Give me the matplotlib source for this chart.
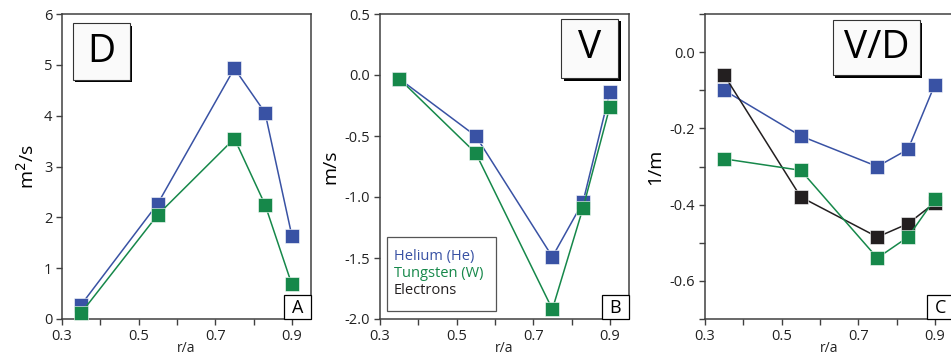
import numpy as np
import matplotlib.pyplot as plt
from matplotlib.patches import Rectangle
from matplotlib.ticker import MultipleLocator, FormatStrFormatter

plt.rcParams['font.family'] = ['Open Sans', 'DejaVu Sans']
plt.rcParams['axes.unicode_minus'] = False

# radial positions (r/a)
r = [0.35, 0.55, 0.75, 0.83, 0.90]

# diffusion coefficient D (m^2/s)
D_he = [0.28, 2.27, 4.93, 4.06, 1.64]
D_w = [0.12, 2.05, 3.55, 2.25, 0.68]

# convection velocity V (m/s)
V_he = [-0.03, -0.50, -1.49, -1.04, -0.14]
V_w = [-0.03, -0.64, -1.92, -1.09, -0.26]

# peaking factor V/D (1/m)
VD_he = [-0.10, -0.22, -0.30, -0.255, -0.085]
VD_w = [-0.28, -0.31, -0.54, -0.485, -0.385]
VD_e = [-0.06, -0.38, -0.485, -0.45, -0.395]

c_he = '#3952a4'
c_w = '#16884a'
c_e = '#231f20'
spine_c = '#404040'

W, H = 951, 356
fig = plt.figure(figsize=(W / 100, H / 100), dpi=100)


def make_ax(left_px):
    ax = fig.add_axes([left_px / W, (H - 319) / H, 249 / W, 305 / H])
    for s in ax.spines.values():
        s.set_color(spine_c)
        s.set_linewidth(1.1)
    ax.tick_params(which='both', direction='out', color=spine_c, width=1.0,
                   labelsize=10.5, labelcolor='#222222', pad=3)
    ax.tick_params(which='major', length=4)
    ax.tick_params(which='minor', length=4)
    ax.set_xlim(0.3, 0.95)
    ax.set_xticks([0.3, 0.5, 0.7, 0.9])
    ax.xaxis.set_minor_locator(MultipleLocator(0.1))
    ax.xaxis.set_major_formatter(FormatStrFormatter('%.1f'))
    ax.set_xlabel('r/a', fontsize=10, labelpad=-2, color='#222222')
    return ax


def series(ax, y, col):
    ax.plot(r, y, '-s', color=col, lw=1.1, ms=10, mec='white', mew=0.4,
            clip_on=False, zorder=3)


def title_box(ax, x0, x1, y0, y1, txt):
    # drop shadow, then the white box with its letter
    dx, dy = 2.5 / 249, 2.5 / 305
    ax.add_patch(Rectangle((x0 + dx, y0 - dy), x1 - x0, y1 - y0,
                           transform=ax.transAxes, facecolor='black',
                           edgecolor='none', zorder=4, clip_on=False))
    ax.add_patch(Rectangle((x0, y0), x1 - x0, y1 - y0, transform=ax.transAxes,
                           facecolor='#fafafa', edgecolor='#333333', lw=0.8,
                           zorder=5, clip_on=False))
    ax.text((x0 + x1) / 2, (y0 + y1) / 2, txt, transform=ax.transAxes,
            ha='center', va='center', fontsize=28, zorder=6)


def corner_box(ax, txt):
    ax.add_patch(Rectangle((0.892, 0), 0.108, 0.079, transform=ax.transAxes,
                           facecolor='white', edgecolor='black', lw=0.9,
                           zorder=5, clip_on=False))
    ax.text(0.946, 0.036, txt, transform=ax.transAxes, ha='center',
            va='center', fontsize=13, zorder=6)


# panel A: D
ax1 = make_ax(62)
series(ax1, D_he, c_he)
series(ax1, D_w, c_w)
ax1.set_ylim(0, 6)
ax1.set_yticks(range(7))
ax1.set_ylabel('m$^2$/s', fontsize=14, labelpad=4)
title_box(ax1, 0.044, 0.273, 0.784, 0.970, 'D')
corner_box(ax1, 'A')

# panel B: V
ax2 = make_ax(380)
series(ax2, V_he, c_he)
series(ax2, V_w, c_w)
ax2.set_ylim(-2.0, 0.5)
ax2.set_yticks(np.arange(-2.0, 0.51, 0.5))
ax2.yaxis.set_major_formatter(FormatStrFormatter('%.1f'))
ax2.set_ylabel('m/s', fontsize=14, labelpad=4)
title_box(ax2, 0.727, 0.956, 0.790, 0.984, 'V')
corner_box(ax2, 'B')

# legend as coloured text in a plain box
ax2.add_patch(Rectangle((0.028, 0.026), 0.438, 0.243, transform=ax2.transAxes,
                        facecolor='white', edgecolor='#555555', lw=0.9,
                        zorder=5))
for i, (lab, col) in enumerate([('Helium (He)', c_he),
                                ('Tungsten (W)', c_w),
                                ('Electrons', c_e)]):
    ax2.text(0.055, 0.205 - i * 0.056, lab, color=col, fontsize=10.5,
             transform=ax2.transAxes, va='center', ha='left', zorder=6)

# panel C: V/D
ax3 = make_ax(705)
series(ax3, VD_he, c_he)
series(ax3, VD_e, c_e)
series(ax3, VD_w, c_w)
ax3.set_ylim(-0.7, 0.1)
ax3.set_yticks([0.0, -0.2, -0.4, -0.6])
ax3.yaxis.set_minor_locator(MultipleLocator(0.1))
ax3.yaxis.set_major_formatter(FormatStrFormatter('%.1f'))
ax3.set_ylabel('1/m', fontsize=14, labelpad=4)
title_box(ax3, 0.514, 0.863, 0.800, 0.980, 'V/D')
corner_box(ax3, 'C')

fig.savefig('out.png', dpi=100)
